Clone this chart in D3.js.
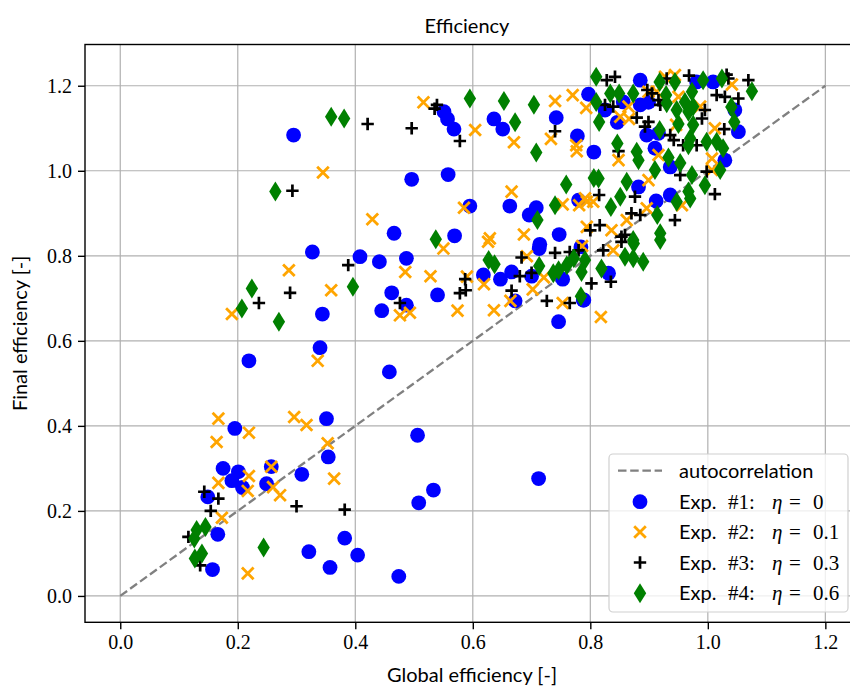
<!doctype html>
<html>
<head>
<meta charset="UTF-8">
<title>Efficiency</title>
<script src="https://d3js.org/d3.v7.min.js"></script>
<style>
  body { margin: 0; background: #fff; }
  .tick text { font-family: "Liberation Serif", serif; font-size: 20px; fill: #000; }
  .lbl { font-family: "Lato", "DejaVu Sans", sans-serif; font-size: 20px; fill: #000; }
  .mth { font-family: "Liberation Serif", serif; font-size: 21px; fill: #000; }
</style>
</head>
<body>
<div id="chart"></div>
<script>
// data: [global efficiency, final efficiency]
var exp1 = [[0.295,1.084],[0.551,1.139],[0.557,1.122],[0.568,1.098],[0.636,1.122],[0.651,1.098],[0.742,1.125],[0.797,1.180],[0.778,1.082],[0.806,1.044],
  [0.496,0.980],[0.558,0.991],[0.466,0.853],[0.569,0.847],[0.595,0.917],[0.663,0.917],[0.696,0.896],[0.708,0.913],[0.780,0.931],[0.747,0.850],[0.714,0.827],
  [0.408,0.798],[0.441,0.786],[0.487,0.794],[0.462,0.713],[0.487,0.684],[0.445,0.671],[0.540,0.708],[0.618,0.755],[0.647,0.745],[0.672,0.694],[0.666,0.762],
  [0.700,0.752],[0.713,0.817],[0.746,0.645],[0.753,0.745],[0.789,0.696],[0.784,0.821],[0.458,0.527],[0.506,0.378],
  [0.327,0.809],[0.344,0.663],[0.340,0.584],[0.219,0.553],[0.195,0.394],[0.351,0.417],
  [0.354,0.327],[0.175,0.300],[0.201,0.292],[0.190,0.271],[0.208,0.255],[0.257,0.304],[0.249,0.264],[0.309,0.286],[0.149,0.233],[0.166,0.145],[0.157,0.062],
  [0.321,0.104],[0.357,0.067],[0.533,0.249],[0.508,0.219],[0.712,0.276],[0.382,0.136],[0.404,0.096],[0.474,0.046],
  [0.831,0.759],[0.788,0.696],[0.825,1.143],[0.846,1.114],[0.856,1.162],[0.885,1.213],[0.885,1.155],[0.899,1.161],[0.916,1.088],[0.896,1.084],[0.910,1.053],
  [0.936,1.009],[0.981,1.209],[1.009,1.209],[1.046,1.143],[1.052,1.092],[1.029,1.025],[0.882,0.962],[0.912,0.929],[0.936,0.943]];

var exp2 = [[0.345,0.996],[0.516,1.161],[0.604,1.096],[0.670,1.067],[0.740,1.164],[0.733,1.075],[0.770,1.178],[0.793,1.148],[0.776,1.060],[0.777,1.046],
  [0.429,0.886],[0.585,0.913],[0.666,0.951],[0.753,0.921],[0.781,0.919],[0.794,0.927],[0.687,0.850],[0.629,0.841],[0.626,0.833],[0.794,0.868],
  [0.485,0.762],[0.528,0.752],[0.476,0.660],[0.493,0.666],[0.574,0.671],[0.590,0.751],[0.619,0.733],[0.636,0.672],[0.664,0.694],[0.692,0.799],[0.702,0.721],
  [0.721,0.749],[0.753,0.689],[0.786,0.823],[0.818,0.656],[0.550,0.817],
  [0.287,0.766],[0.359,0.719],[0.190,0.663],[0.336,0.553],[0.167,0.417],[0.296,0.421],[0.317,0.402],[0.219,0.384],[0.164,0.362],
  [0.353,0.359],[0.167,0.266],[0.219,0.282],[0.217,0.247],[0.257,0.304],[0.260,0.256],[0.272,0.237],[0.364,0.276],[0.173,0.184],[0.217,0.053],
  [0.839,0.813],[0.851,1.127],[0.866,1.122],[0.865,1.151],[0.899,1.186],[0.913,1.186],[0.927,1.221],[0.944,1.225],[0.950,1.174],[0.946,1.108],[0.916,1.037],
  [0.987,1.151],[1.041,1.203],[1.012,1.100],[1.007,1.029],[1.007,1.002],[0.956,0.919],[0.899,0.978],[0.848,1.025],[0.896,0.912],[0.862,0.884],[0.836,0.860],
  [0.791,0.935],[0.805,0.927]];

var exp3 = [[0.293,0.953],[0.421,1.110],[0.496,1.100],[0.539,1.155],[0.535,1.146],[0.578,1.070],[0.740,1.093],[0.800,0.860],
  [0.388,0.778],[0.476,0.689],[0.587,0.745],[0.588,0.719],[0.578,0.712],[0.666,0.718],[0.680,0.752],[0.683,0.796],[0.700,0.760],[0.726,0.694],[0.765,0.689],
  [0.740,0.807],[0.765,0.809],[0.780,0.813],[0.802,0.735],[0.289,0.713],[0.236,0.689],
  [0.300,0.211],[0.143,0.245],[0.167,0.229],[0.154,0.200],[0.116,0.139],[0.136,0.072],[0.382,0.203],
  [0.835,0.739],[0.822,0.813],[0.853,0.833],
  [0.828,1.213],[0.842,1.221],[0.825,1.155],[0.839,1.151],[0.879,1.125],[0.899,1.115],[0.893,1.104],[0.897,1.190],[0.905,1.182],[0.916,1.166],[0.919,1.155],
  [0.930,1.217],[0.936,1.084],[0.942,1.072],[0.958,1.060],[0.968,1.224],[1.032,1.226],[1.035,1.217],[1.015,1.178],[1.029,1.174],[1.052,1.170],[1.069,1.213],
  [1.028,1.098],[0.995,1.143],[0.990,1.123],[0.981,1.060],[0.953,0.990],[1.012,0.945],[0.998,0.998],[0.944,0.884],[0.848,1.046],[0.876,0.939],[0.815,0.943],
  [0.870,0.900],[0.885,0.896],[0.816,0.872],[0.853,0.845],[0.859,0.849]];

var exp4 = [[0.359,1.127],[0.381,1.123],[0.264,0.951],[0.595,1.170],[0.653,1.164],[0.672,1.114],[0.704,1.155],[0.708,1.043],
  [0.537,0.839],[0.710,0.884],[0.759,0.968],[0.740,0.919],[0.806,0.983],
  [0.396,0.727],[0.627,0.790],[0.637,0.780],[0.713,0.776],[0.746,0.766],[0.760,0.778],[0.785,0.762],[0.772,0.794],[0.784,0.705],[0.737,0.759],[0.791,0.790],
  [0.224,0.723],[0.207,0.676],[0.270,0.645],
  [0.130,0.155],[0.145,0.162],[0.126,0.135],[0.139,0.100],[0.127,0.088],[0.244,0.114],
  [0.819,0.770],[0.890,0.786],[0.873,0.794],[0.859,0.798],[0.874,0.829],[0.919,0.837],
  [0.810,1.221],[0.810,1.162],[0.834,1.182],[0.849,1.182],[0.815,1.115],[0.873,1.182],[0.918,1.209],[0.929,1.178],[0.930,1.159],[0.944,1.209],[0.918,1.096],
  [0.933,1.031],[0.947,1.143],[0.961,1.162],[0.967,1.139],[0.973,1.186],[0.975,1.151],[0.992,1.213],[1.024,1.217],[1.075,1.187],[1.040,1.150],[1.045,1.115],
  [1.015,1.068],[1.026,1.053],[1.021,1.002],[0.975,1.108],[0.970,1.076],[0.967,1.060],[0.998,1.068],[0.950,1.110],[0.953,1.018],[0.995,0.966],[0.973,0.990],
  [0.967,0.951],[0.947,0.927],[0.970,0.935],[0.814,0.982],[0.846,1.064],[0.879,1.045],[0.882,1.025],[0.862,0.974],[0.910,1.002],[0.851,0.939],[0.835,0.915],
  [0.914,0.896],[0.919,0.853],[0.873,0.837]];

var autoLine = [[0, 0], [1.2, 1.2]];
var xTicks = [0, 0.2, 0.4, 0.6, 0.8, 1.0, 1.2];
var yTicks = [0, 0.2, 0.4, 0.6, 0.8, 1.0, 1.2];
var legendLabels = [["1", "0"], ["2", "0.1"], ["3", "0.3"], ["4", "0.6"]];

var W = 850, H = 688;
var mLeft = 85, mTop = 44.5, mRight = 860.6, mBottom = 622.3;

var svg = d3.select("#chart").append("svg")
    .attr("width", W).attr("height", H);

var x = d3.scaleLinear().domain([-0.06, 1.26]).range([mLeft, mRight]);
var y = d3.scaleLinear().domain([-0.062, 1.297]).range([mBottom, mTop]);

// grid
svg.append("g").selectAll("line").data(xTicks).join("line")
    .attr("x1", d => x(d)).attr("x2", d => x(d))
    .attr("y1", mTop).attr("y2", mBottom)
    .attr("stroke", "#b0b0b0").attr("stroke-width", 1.2);
svg.append("g").selectAll("line").data(yTicks).join("line")
    .attr("x1", mLeft).attr("x2", mRight)
    .attr("y1", d => y(d)).attr("y2", d => y(d))
    .attr("stroke", "#b0b0b0").attr("stroke-width", 1.2);

// autocorrelation line
svg.append("path")
    .datum(autoLine)
    .attr("d", d3.line().x(d => x(d[0])).y(d => y(d[1])))
    .attr("fill", "none").attr("stroke", "#808080")
    .attr("stroke-width", 2.3).attr("stroke-dasharray", "8.5,3.7");

var plot = svg.append("g");

function drawCircles(g, data) {
  g.selectAll("circle.e1").data(data).join("circle").attr("class", "e1")
    .attr("cx", d => x(d[0])).attr("cy", d => y(d[1])).attr("r", 7.4)
    .attr("fill", "#0000ff");
}
function crossPath(cx, cy, s) {
  return "M" + (cx - s) + "," + (cy - s) + "L" + (cx + s) + "," + (cy + s) +
         "M" + (cx - s) + "," + (cy + s) + "L" + (cx + s) + "," + (cy - s);
}
function plusPath(cx, cy, s) {
  return "M" + (cx - s) + "," + cy + "L" + (cx + s) + "," + cy +
         "M" + cx + "," + (cy - s) + "L" + cx + "," + (cy + s);
}
function diamond(cx, cy) {
  return "M" + cx + "," + (cy - 10) + "L" + (cx + 6.2) + "," + cy +
         "L" + cx + "," + (cy + 10) + "L" + (cx - 6.2) + "," + cy + "Z";
}
function drawX(g, data) {
  g.selectAll("path.e2").data(data).join("path").attr("class", "e2")
    .attr("d", d => crossPath(x(d[0]), y(d[1]), 5.8))
    .attr("stroke", "#ffa500").attr("stroke-width", 2.8).attr("fill", "none");
}
function drawPlus(g, data) {
  g.selectAll("path.e3").data(data).join("path").attr("class", "e3")
    .attr("d", d => plusPath(x(d[0]), y(d[1]), 6.2))
    .attr("stroke", "#000").attr("stroke-width", 2.7).attr("fill", "none");
}
function drawDiamonds(g, data) {
  g.selectAll("path.e4").data(data).join("path").attr("class", "e4")
    .attr("d", d => diamond(x(d[0]), y(d[1])))
    .attr("fill", "#008000");
}

drawCircles(plot.append("g"), exp1);
drawX(plot.append("g"), exp2);
drawPlus(plot.append("g"), exp3);
drawDiamonds(plot.append("g"), exp4);

// spines
svg.append("rect").attr("x", mLeft).attr("y", mTop)
    .attr("width", mRight - mLeft).attr("height", mBottom - mTop)
    .attr("fill", "none").attr("stroke", "#000").attr("stroke-width", 1.4);

// axes
var xAxis = svg.append("g").attr("transform", "translate(0," + mBottom + ")")
    .call(d3.axisBottom(x).tickValues(xTicks).tickFormat(d3.format(".1f")).tickSize(7).tickPadding(6));
var yAxis = svg.append("g").attr("transform", "translate(" + mLeft + ",0)")
    .call(d3.axisLeft(y).tickValues(yTicks).tickFormat(d3.format(".1f")).tickSize(7).tickPadding(6));
[xAxis, yAxis].forEach(a => {
  a.select(".domain").remove();
  a.selectAll(".tick line").attr("stroke", "#000").attr("stroke-width", 1.4);
});

// title and labels
svg.append("text").attr("class", "lbl").attr("x", 467).attr("y", 33)
    .attr("text-anchor", "middle").text("Efficiency");
svg.append("text").attr("class", "lbl").attr("x", 472).attr("y", 682)
    .attr("text-anchor", "middle").text("Global efficiency [-]");
svg.append("text").attr("class", "lbl")
    .attr("transform", "translate(27," + ((mTop + mBottom) / 2) + ") rotate(-90)")
    .attr("text-anchor", "middle").text("Final efficiency [-]");

// legend
var lg = svg.append("g");
lg.append("rect").attr("x", 609).attr("y", 454).attr("width", 239).attr("height", 158)
    .attr("rx", 4).attr("fill", "#fff").attr("fill-opacity", 0.8)
    .attr("stroke", "#d0d0d0").attr("stroke-width", 1.2);
var rowY = [470.7, 501.7, 532, 562.5, 593.3];
lg.append("line").attr("x1", 618).attr("x2", 662).attr("y1", rowY[0]).attr("y2", rowY[0])
    .attr("stroke", "#808080").attr("stroke-width", 2.3).attr("stroke-dasharray", "8.5,3.7");
lg.append("text").attr("class", "lbl").attr("x", 679).attr("y", rowY[0] + 7).text("autocorrelation");

var mk = lg.append("g");
mk.append("circle").attr("cx", 640).attr("cy", rowY[1]).attr("r", 7.4).attr("fill", "#0000ff");
mk.append("path").attr("d", crossPath(640, rowY[2], 5.8))
    .attr("stroke", "#ffa500").attr("stroke-width", 2.8);
mk.append("path").attr("d", plusPath(640, rowY[3], 6.2))
    .attr("stroke", "#000").attr("stroke-width", 2.7);
mk.append("path").attr("d", diamond(640, rowY[4])).attr("fill", "#008000");

legendLabels.forEach((l, i) => {
  var yy = rowY[i + 1] + 7;
  lg.append("text").attr("class", "lbl").attr("x", 679).attr("y", yy).text("Exp.");
  lg.append("text").attr("class", "mth").attr("x", 728).attr("y", yy).text("#" + l[0] + ":");
  lg.append("text").attr("class", "mth").attr("x", 772).attr("y", yy)
      .style("font-style", "italic").text("\u03b7");
  lg.append("text").attr("class", "mth").attr("x", 789).attr("y", yy).text("=");
  lg.append("text").attr("class", "mth").attr("x", 813).attr("y", yy).text(l[1]);
});
</script>
</body>
</html>
